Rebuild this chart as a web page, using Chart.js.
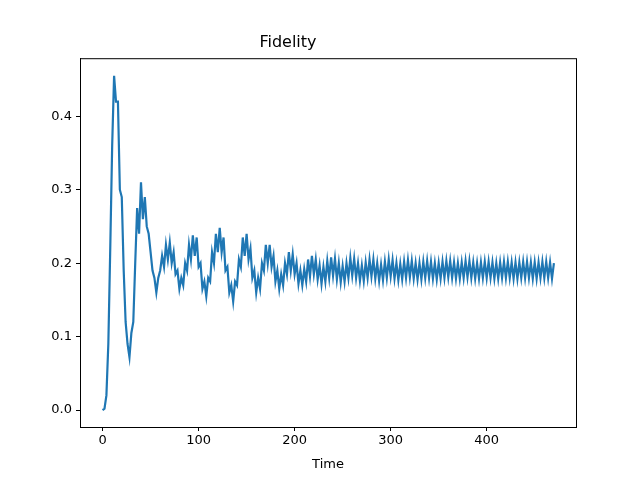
<!DOCTYPE html>
<html><head><meta charset="utf-8">
<script src="https://cdn.jsdelivr.net/npm/chart.js@4"></script>
<style>html,body{margin:0;padding:0;background:#fff}#wrap{width:640px;height:480px}</style>
</head><body><div id="wrap"><canvas id="c" width="640" height="480"></canvas></div>
<script>
const timeStep = 2;
const fidelity = [
0,0.002,0.02,0.09,0.22,0.36,0.455,0.42,0.42,0.30,0.29,0.19,0.12,0.09,0.072,0.105,0.12,0.2,0.275,0.24,0.31,0.26,0.29,0.25,0.24,0.215,
0.19,0.18,0.16,0.18,0.19,0.21,0.195,0.225,0.205,0.228,0.2,0.215,0.185,0.19,0.165,0.18,0.17,0.2,0.19,0.225,0.205,0.238,0.21,0.235,
0.195,0.2,0.165,0.175,0.155,0.18,0.175,0.215,0.2,0.24,0.215,0.248,0.215,0.235,0.19,0.195,0.16,0.17,0.148,0.175,0.17,0.205,0.195,0.235,0.21,0.24,
0.205,0.22,0.18,0.19,0.16,0.18,0.165,0.2,0.19,0.225,0.2,0.225,0.195,0.21,0.175,0.19,0.165,0.185,0.17,0.2,0.185,0.215,0.19,0.212,
0.185,0.2,0.172,0.19,0.17,0.192,0.175,0.205,0.182,0.21,0.185,0.205,0.178,0.197,0.172,0.195,0.175,0.203,0.18,0.208,0.183,0.206,0.178,0.2,0.174,
0.196,0.175,0.2,0.18,0.207,0.183,0.206,0.18,0.2,0.176,0.197,0.176,0.201,0.18,0.205,0.182,0.205,0.179,0.2,0.176,0.198,0.177,0.202,0.18,0.205,
0.182,0.204,0.179,0.2,0.177,0.199,0.178,0.202,0.18,0.204,0.181,0.203,0.179,0.2,0.178,0.2,0.178,0.202,0.18,0.203,0.18,0.202,0.179,0.2,0.178,
0.2,0.179,0.202,0.18,0.203,0.181,0.203,0.18,0.201,0.179,0.2,0.179,0.201,0.18,0.203,0.181,0.203,0.18,0.201,0.179,0.2,0.179,0.201,0.18,0.202,
0.18,0.202,0.18,0.201,0.179,0.2,0.179,0.201,0.18,0.202,0.18,0.202,0.18,0.201,0.179,0.201,0.179,0.201,0.18,0.202,0.18,0.202,0.18,0.201,0.179,
0.201,0.179,0.201,0.18,0.202,0.18,0.202,0.18,0.201,0.179,0.2
];
const xTicks = [0,100,200,300,400];
const yTicks = [0.0,0.1,0.2,0.3,0.4];
const points = fidelity.map((v,i)=>({x:i*timeStep,y:v}));
const frame = {id:'frame',afterDraw(c){const a=c.chartArea,x=c.ctx;x.save();x.strokeStyle='#000';x.lineWidth=1;x.strokeRect(a.left+0.5,a.top+0.5,a.right-a.left,a.bottom-a.top);x.restore();}};
new Chart(document.getElementById('c'),{
 type:'line',
 data:{datasets:[{data:points,borderColor:'#1f77b4',borderWidth:2.2,pointRadius:0,tension:0}]},
 options:{responsive:false,animation:false,
  layout:{padding:{left:0,right:64,top:0,bottom:0}},
  plugins:{legend:{display:false},tooltip:{enabled:false},
   title:{display:true,text:'Fidelity',color:'#000',font:{family:'DejaVu Sans',size:16,weight:'normal'},padding:{top:33,bottom:6}}},
  scales:{
   x:{type:'linear',min:-23.5,max:493,
    afterBuildTicks(s){s.ticks=xTicks.map(v=>({value:v}));},
    afterFit(s){s.height=53;},
    ticks:{color:'#000',font:{family:'DejaVu Sans',size:13},maxRotation:0,padding:2,autoSkip:false},
    grid:{drawOnChartArea:false,drawTicks:true,tickLength:4,color:'#000'},border:{display:true,color:'#000'},
    title:{display:true,text:'Time',color:'#000',font:{family:'DejaVu Sans',size:13},padding:{top:0,bottom:8}}},
   y:{min:-0.023,max:0.479,
    afterBuildTicks(s){s.ticks=yTicks.map(v=>({value:v}));},
    afterFit(s){s.width=80;},
    ticks:{color:'#000',font:{family:'DejaVu Sans',size:13},padding:4,callback:v=>v.toFixed(1),autoSkip:false},
    grid:{drawOnChartArea:false,drawTicks:true,tickLength:4,color:'#000'},border:{display:true,color:'#000'}}
  }},
 plugins:[frame]
});
</script></body></html>
